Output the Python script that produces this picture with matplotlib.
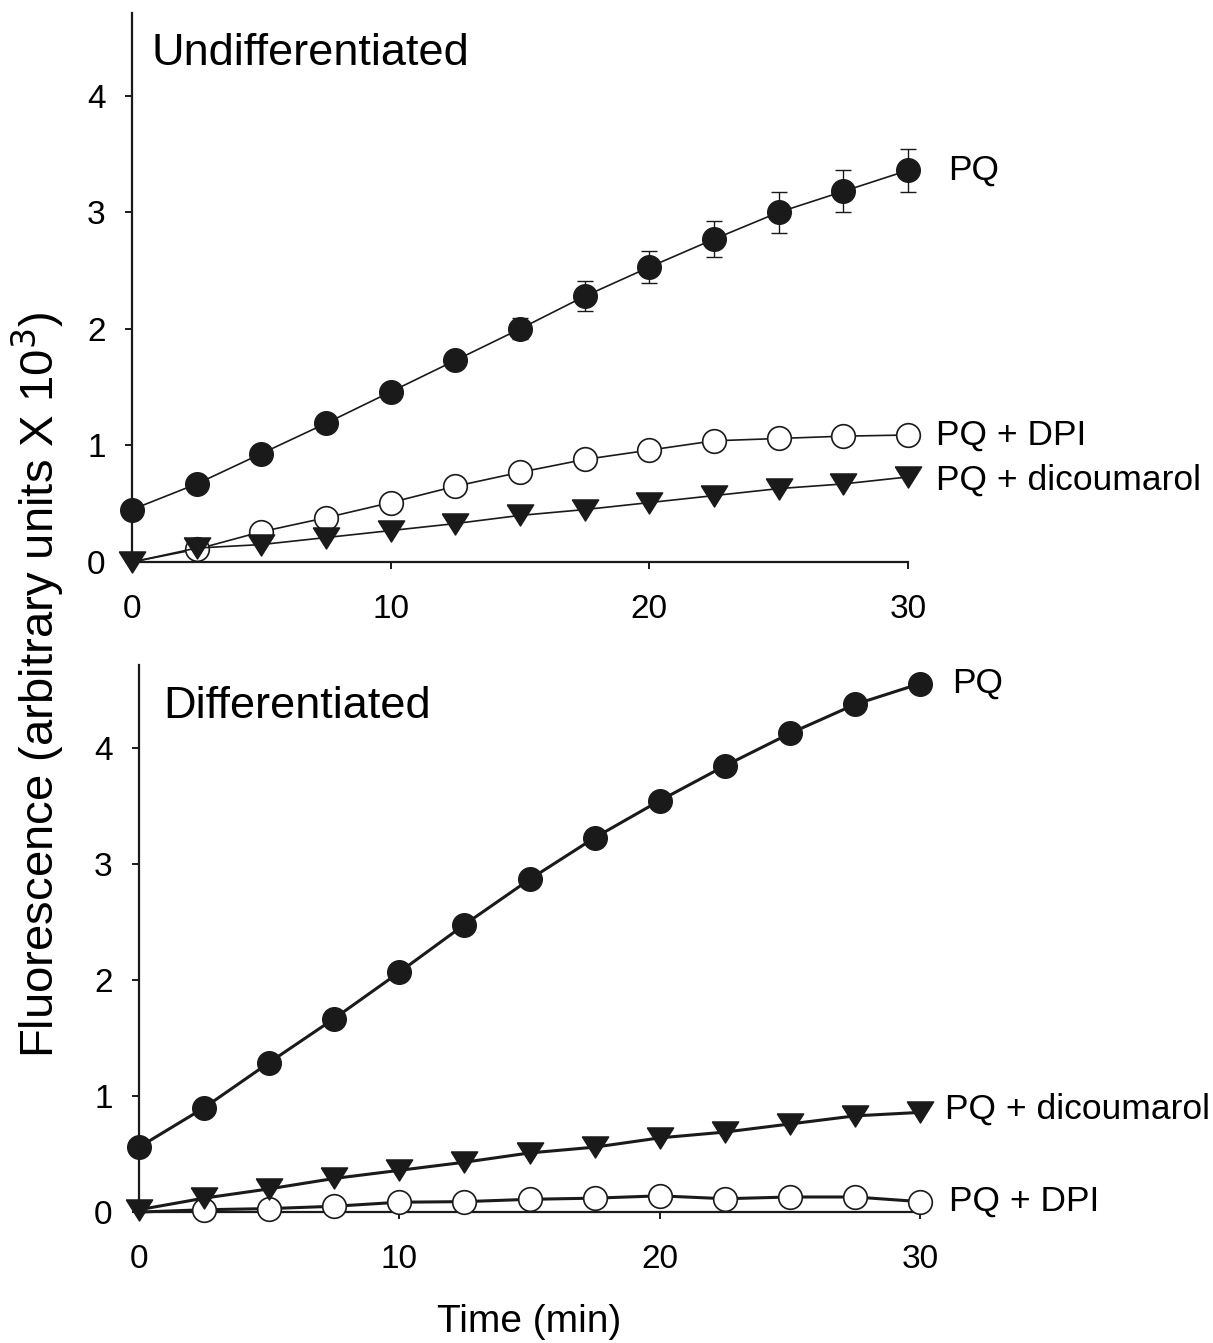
import numpy as np
import matplotlib
matplotlib.use("Agg")
import matplotlib.pyplot as plt

plt.rcParams['font.family'] = ['Liberation Sans', 'DejaVu Sans']

# time points (min)
time = [0, 2.5, 5, 7.5, 10, 12.5, 15, 17.5, 20, 22.5, 25, 27.5, 30]

# Undifferentiated cells
undiff_pq = [0.45, 0.67, 0.93, 1.19, 1.46, 1.73, 2.00, 2.28, 2.53, 2.77, 3.00, 3.18, 3.36]
undiff_pq_err = [0.03, 0.03, 0.03, 0.04, 0.05, 0.06, 0.09, 0.13, 0.14, 0.155, 0.175, 0.18, 0.185]
undiff_dpi = [0.0, 0.11, 0.26, 0.38, 0.51, 0.65, 0.77, 0.88, 0.96, 1.04, 1.06, 1.08, 1.09]
undiff_dic = [0.0, 0.12, 0.15, 0.21, 0.27, 0.33, 0.40, 0.45, 0.51, 0.57, 0.63, 0.67, 0.73]

# Differentiated cells
diff_pq = [0.56, 0.90, 1.29, 1.67, 2.07, 2.48, 2.87, 3.23, 3.55, 3.85, 4.13, 4.38, 4.56]
diff_dic = [0.02, 0.12, 0.20, 0.29, 0.36, 0.43, 0.51, 0.56, 0.64, 0.69, 0.76, 0.83, 0.86]
diff_dpi = [0.0, 0.02, 0.03, 0.05, 0.085, 0.09, 0.11, 0.12, 0.14, 0.115, 0.13, 0.13, 0.09]

ink = '#1a1a1a'
tri = [(-1.0, 0.8), (1.0, 0.8), (0.0, -0.8), (-1.0, 0.8)]

fig = plt.figure(figsize=(12.13, 13.43), dpi=100)
ax1 = fig.add_axes([0.1088, 0.5815, 0.6397, 0.4088])
ax2 = fig.add_axes([0.1146, 0.0975, 0.6439, 0.4073])


def style(ax, ymax):
    ax.set_xlim(0, 30)
    ax.set_ylim(0, ymax)
    for s in ['top', 'right']:
        ax.spines[s].set_visible(False)
    for s in ['left', 'bottom']:
        ax.spines[s].set_linewidth(1.6)
        ax.spines[s].set_color(ink)
    ax.set_xticks([0, 10, 20, 30])
    ax.set_yticks([0, 1, 2, 3, 4])
    ax.tick_params(axis='both', direction='out', length=5, width=1.4, color=ink, labelsize=24)
    ax.tick_params(axis='x', pad=18)
    ax.tick_params(axis='y', pad=14)


# top panel
style(ax1, 4.71)
ax1.errorbar(time, undiff_pq, yerr=undiff_pq_err, fmt='none', ecolor=ink, elinewidth=1.0,
             capsize=5.5, capthick=1.0, clip_on=False, zorder=2)
ax1.plot(time, undiff_pq, '-', color=ink, lw=1.2, marker='o', ms=17, mfc=ink, mec=ink,
         clip_on=False, zorder=3)
ax1.plot(time, undiff_dpi, '-', color=ink, lw=1.2, marker='o', ms=17, mfc='white', mec=ink,
         mew=1.2, markevery=slice(1, None), clip_on=False, zorder=3)
ax1.plot(time, undiff_dic, '-', color=ink, lw=1.2, marker=tri, ms=19, mfc=ink, mec=ink,
         clip_on=False, zorder=4)
ax1.text(0.0258, 0.905, 'Undifferentiated', transform=ax1.transAxes, fontsize=32.5,
         ha='left', va='baseline')
ax1.annotate('PQ', (time[-1], undiff_pq[-1]), xytext=(29, 0), textcoords='offset points',
             fontsize=25.5, va='center', ha='left')
ax1.annotate('PQ + DPI', (time[-1], undiff_dpi[-1]), xytext=(20, 0), textcoords='offset points',
             fontsize=25.5, va='center', ha='left')
ax1.annotate('PQ + dicoumarol', (time[-1], undiff_dic[-1]), xytext=(20, -2),
             textcoords='offset points', fontsize=25.5, va='center', ha='left')

# bottom panel
style(ax2, 4.72)
ax2.plot(time, diff_pq, '-', color=ink, lw=2.2, marker='o', ms=17, mfc=ink, mec=ink,
         clip_on=False, zorder=3)
ax2.plot(time, diff_dpi, '-', color=ink, lw=2.2, marker='o', ms=17, mfc='white', mec=ink,
         mew=1.2, markevery=slice(1, None), clip_on=False, zorder=3)
ax2.plot(time, diff_dic, '-', color=ink, lw=2.2, marker=tri, ms=19, mfc=ink, mec=ink,
         clip_on=False, zorder=4)
ax2.text(0.0307, 0.903, 'Differentiated', transform=ax2.transAxes, fontsize=32.5,
         ha='left', va='baseline')
ax2.annotate('PQ', (time[-1], diff_pq[-1]), xytext=(23, 0), textcoords='offset points',
             fontsize=25.5, va='center', ha='left')
ax2.annotate('PQ + dicoumarol', (time[-1], diff_dic[-1]), xytext=(18, 2),
             textcoords='offset points', fontsize=25.5, va='center', ha='left')
ax2.annotate('PQ + DPI', (time[-1], diff_dpi[-1]), xytext=(21, 0), textcoords='offset points',
             fontsize=25.5, va='center', ha='left')

fig.text(0.436, 0.0156, 'Time (min)', fontsize=28, ha='center', va='center')
fig.text(0.031, 0.49, 'Fluorescence (arbitrary units X 10$^3$)', rotation=90,
         fontsize=34, ha='center', va='center')

fig.savefig('out.png', dpi=100)
